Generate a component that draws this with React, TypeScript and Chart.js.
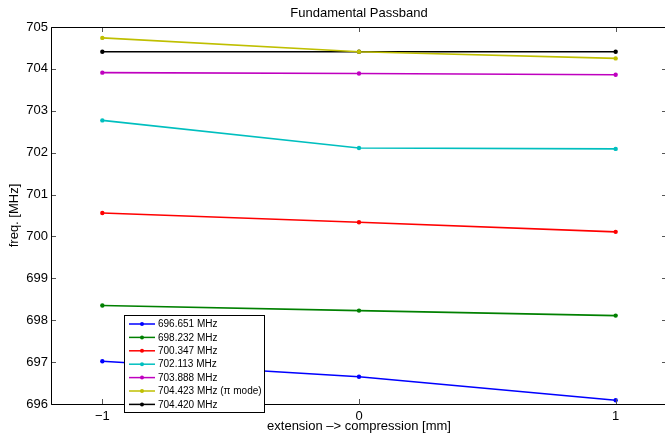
import React, { useEffect, useRef } from "react";
import { Chart, registerables } from "chart.js";

Chart.register(...registerables);

const TITLE = "Fundamental Passband";
const X_TITLE = "extension \u2013> compression [mm]";
const Y_TITLE = "freq. [MHz]";

const X_VALUES = [-1, 0, 1];
const X_TICKS = [-1, 0, 1];
const Y_TICKS = [696, 697, 698, 699, 700, 701, 702, 703, 704, 705];

const SERIES_LABELS = [
  "696.651 MHz",
  "698.232 MHz",
  "700.347 MHz",
  "702.113 MHz",
  "703.888 MHz",
  "704.423 MHz (\u03c0 mode)",
  "704.420 MHz",
];
const SERIES_COLORS = ["#0000ff", "#008000", "#ff0000", "#00bfbf", "#bf00bf", "#bfbf00", "#000000"];

const S_696 = [697.02, 696.65, 696.09];
const S_698 = [698.35, 698.23, 698.11];
const S_700 = [700.56, 700.34, 700.11];
const S_702 = [702.77, 702.11, 702.09];
const S_703 = [703.91, 703.89, 703.86];
const S_704PI = [704.74, 704.41, 704.25];
const S_704 = [704.41, 704.41, 704.41];

const SERIES = [S_696, S_698, S_700, S_702, S_703, S_704PI, S_704];

const FONT = "'Liberation Sans', Arial, sans-serif";

const framePlugin = {
  id: "frame",
  afterDatasetsDraw(chart: any) {
    const { ctx, chartArea } = chart;
    const { left, right, top, bottom } = chartArea;
    const xs = chart.scales.x;
    const ys = chart.scales.y;
    ctx.save();
    // ticks
    ctx.strokeStyle = "#555";
    ctx.lineWidth = 1;
    const tl = 5;
    ctx.beginPath();
    X_TICKS.forEach((v) => {
      const px = Math.round(xs.getPixelForValue(v)) + 0.5;
      ctx.moveTo(px, bottom);
      ctx.lineTo(px, bottom - tl);
      ctx.moveTo(px, top);
      ctx.lineTo(px, top + tl);
    });
    Y_TICKS.forEach((v) => {
      const py = Math.round(ys.getPixelForValue(v)) + 0.5;
      ctx.moveTo(left, py);
      ctx.lineTo(left + tl, py);
      ctx.moveTo(right, py);
      ctx.lineTo(right - tl, py);
    });
    ctx.stroke();
    // box
    ctx.strokeStyle = "#000";
    const L = Math.round(left) + 0.5;
    const T = Math.round(top) + 0.5;
    const B = Math.round(bottom) + 0.5;
    const R = Math.round(right) + 0.5;
    ctx.beginPath();
    ctx.moveTo(R, T);
    ctx.lineTo(L, T);
    ctx.lineTo(L, B);
    ctx.lineTo(R, B);
    ctx.stroke();
    // titles
    ctx.fillStyle = "#000";
    ctx.font = `13px ${FONT}`;
    ctx.textAlign = "center";
    ctx.textBaseline = "middle";
    const cx = (left + right) / 2;
    ctx.fillText(TITLE, cx, 13);
    ctx.fillText(X_TITLE, cx, 426);
    ctx.save();
    ctx.translate(14, (top + bottom) / 2);
    ctx.rotate(-Math.PI / 2);
    ctx.fillText(Y_TITLE, 0, 0);
    ctx.restore();
    ctx.restore();
  },
};

const legendPlugin = {
  id: "customLegend",
  afterDraw(chart: any) {
    const { ctx } = chart;
    const bx = 124.5, by = 315.5, bw = 140, bh = 97;
    ctx.save();
    ctx.fillStyle = "#fff";
    ctx.fillRect(bx, by, bw, bh);
    ctx.strokeStyle = "#000";
    ctx.lineWidth = 1;
    ctx.strokeRect(bx, by, bw, bh);
    ctx.font = `10px ${FONT}`;
    ctx.textAlign = "left";
    ctx.textBaseline = "middle";
    chart.data.datasets.forEach((ds: any, i: number) => {
      const y = 324 + i * 13.4;
      ctx.strokeStyle = ds.borderColor;
      ctx.lineWidth = 1.5;
      ctx.beginPath();
      ctx.moveTo(129, y);
      ctx.lineTo(155, y);
      ctx.stroke();
      ctx.fillStyle = ds.borderColor;
      ctx.beginPath();
      ctx.arc(142, y, 2, 0, Math.PI * 2);
      ctx.fill();
      ctx.fillStyle = "#000";
      ctx.fillText(ds.label, 158, y + 0.5);
    });
    ctx.restore();
  },
};

export default function App() {
  const ref = useRef<HTMLCanvasElement | null>(null);
  useEffect(() => {
    if (!ref.current) return;
    const chart = new Chart(ref.current, {
      type: "line",
      data: {
        datasets: SERIES.map((s, i) => ({
          label: SERIES_LABELS[i],
          data: s.map((y, j) => ({ x: X_VALUES[j], y })),
          borderColor: SERIES_COLORS[i],
          backgroundColor: SERIES_COLORS[i],
          borderWidth: 1.6,
          pointRadius: 2.2,
          pointHoverRadius: 2.2,
          pointBorderWidth: 0,
          tension: 0,
          fill: false,
        })),
      },
      options: {
        responsive: false,
        animation: false,
        events: [],
        layout: { padding: { left: 0, top: 27, right: 3, bottom: 0 } },
        plugins: {
          legend: { display: false },
          title: { display: false },
          tooltip: { enabled: false },
        },
        scales: {
          x: {
            type: "linear",
            min: -1.2,
            max: 1.2,
            afterBuildTicks: (scale: any) => {
              scale.ticks = X_TICKS.map((v) => ({ value: v }));
            },
            afterFit: (scale: any) => {
              scale.height = 31;
            },
            grid: { display: false, drawTicks: false },
            border: { display: false },
            ticks: {
              padding: 5,
              color: "#000",
              font: { family: FONT, size: 13 },
              callback: (v: any) => String(v).replace("-", "\u2212"),
              maxRotation: 0,
            },
          },
          y: {
            type: "linear",
            min: 696,
            max: 705,
            afterBuildTicks: (scale: any) => {
              scale.ticks = Y_TICKS.map((v) => ({ value: v }));
            },
            afterFit: (scale: any) => {
              scale.width = 51;
            },
            grid: { display: false, drawTicks: false },
            border: { display: false },
            ticks: {
              padding: 3,
              color: "#000",
              font: { family: FONT, size: 13 },
            },
          },
        },
      },
      plugins: [framePlugin, legendPlugin],
    });
    return () => chart.destroy();
  }, []);
  return (
    <div
      style={{
        position: "fixed",
        left: 0,
        top: 0,
        width: 665,
        height: 435,
        overflow: "hidden",
        background: "#fff",
      }}
    >
      <canvas ref={ref} width={670} height={435} style={{ display: "block" }} />
    </div>
  );
}
